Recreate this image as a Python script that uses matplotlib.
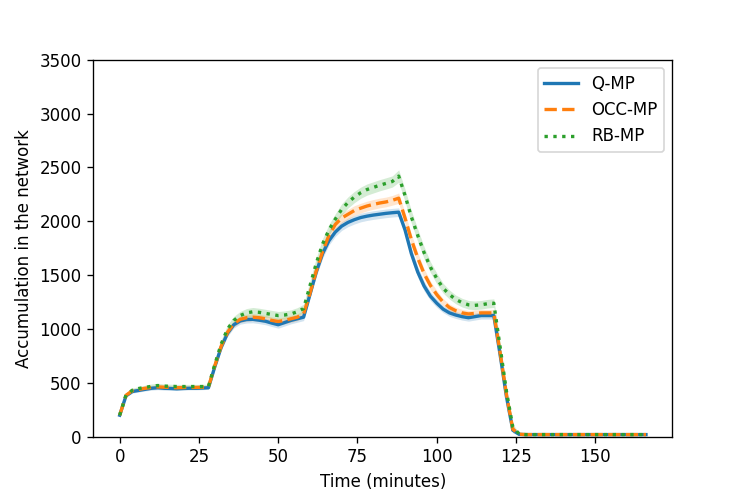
import matplotlib
matplotlib.use('Agg')
import matplotlib.pyplot as plt
import numpy as np

# time axis (minutes), one sample every 2 minutes
time_min = np.arange(0, 168, 2)

tail = [20] * 20
tail_ci = [2] * 20

# mean accumulation per control strategy
q_mp = [200, 380, 420, 430, 440, 450, 455, 450, 448, 445, 448, 450, 450, 452, 455,
        650, 830, 960, 1040, 1075, 1088, 1090, 1082, 1072, 1055, 1040, 1060, 1080, 1095, 1110,
        1320, 1530, 1700, 1820, 1900, 1955, 1990, 2015, 2035, 2048, 2058, 2066, 2074, 2080, 2085,
        1920, 1700, 1530, 1400, 1305, 1240, 1185, 1150, 1130, 1115, 1105, 1115, 1125, 1125, 1125,
        760, 370, 60, 22] + tail
occ_mp = [200, 385, 428, 440, 450, 458, 463, 460, 458, 455, 457, 458, 458, 460, 462,
          660, 840, 970, 1050, 1090, 1105, 1110, 1105, 1095, 1080, 1070, 1080, 1095, 1110, 1140,
          1330, 1540, 1720, 1870, 1970, 2030, 2065, 2100, 2122, 2142, 2157, 2170, 2180, 2195, 2215,
          2030, 1830, 1660, 1515, 1405, 1320, 1250, 1200, 1170, 1150, 1140, 1145, 1150, 1150, 1150,
          780, 390, 70, 24] + tail
rb_mp = [200, 388, 432, 448, 458, 468, 475, 470, 468, 466, 466, 466, 466, 466, 468,
         670, 860, 1000, 1080, 1125, 1150, 1160, 1155, 1145, 1135, 1125, 1130, 1140, 1160, 1190,
         1400, 1610, 1790, 1920, 2020, 2110, 2175, 2225, 2265, 2295, 2315, 2335, 2352, 2370, 2420,
         2240, 2040, 1870, 1710, 1575, 1470, 1380, 1320, 1275, 1245, 1225, 1220, 1225, 1235, 1240,
         830, 420, 90, 26] + tail

# half width of the confidence band
q_ci = [6, 12, 15, 15, 15, 18, 18, 18, 15, 15, 15, 15, 15, 15, 15,
        25, 30, 30, 30, 30, 32, 32, 32, 32, 32, 32, 32, 32, 32, 32,
        38, 42, 42, 40, 40, 40, 40, 40, 40, 40, 40, 40, 40, 40, 40,
        45, 50, 50, 45, 40, 38, 32, 32, 32, 32, 32, 32, 32, 32, 32,
        38, 38, 25, 6] + tail_ci
occ_ci = [6, 12, 15, 15, 15, 18, 18, 18, 15, 15, 15, 15, 15, 15, 15,
          25, 30, 30, 30, 30, 32, 32, 32, 32, 32, 32, 32, 32, 32, 32,
          38, 45, 45, 45, 45, 45, 45, 45, 45, 45, 45, 45, 45, 45, 48,
          50, 50, 50, 45, 40, 38, 32, 32, 32, 32, 32, 32, 32, 32, 32,
          38, 38, 25, 6] + tail_ci
rb_ci = [6, 15, 18, 18, 20, 22, 22, 20, 20, 20, 20, 20, 20, 20, 20,
         30, 38, 38, 38, 38, 40, 40, 38, 38, 38, 38, 38, 38, 38, 40,
         45, 50, 50, 50, 50, 52, 52, 52, 52, 52, 52, 52, 52, 52, 58,
         58, 58, 58, 55, 50, 50, 45, 42, 40, 40, 40, 40, 40, 40, 40,
         45, 45, 30, 6] + tail_ci

labels = ['Q-MP', 'OCC-MP', 'RB-MP']
colors = ['#1f77b4', '#ff7f0e', '#2ca02c']
styles = ['-', '--', ':']

fig, ax = plt.subplots(figsize=(747 / 120, 498 / 120), dpi=120)
fig.subplots_adjust(left=0.125, right=0.9, top=0.88, bottom=0.123)

for mean, ci, lab, c, ls in zip([q_mp, occ_mp, rb_mp], [q_ci, occ_ci, rb_ci], labels, colors, styles):
    mean = np.array(mean)
    ci = np.array(ci)
    ax.plot(time_min, mean, color=c, linestyle=ls, linewidth=2, label=lab)
    ax.fill_between(time_min, mean - ci, mean + ci, color=c, alpha=0.2, linewidth=0)

ax.set_ylim(0, 3500)
ax.set_xlabel('Time (minutes)')
ax.set_ylabel('Accumulation in the network')
ax.legend(loc='upper right')

plt.savefig('out.png', dpi=120)
